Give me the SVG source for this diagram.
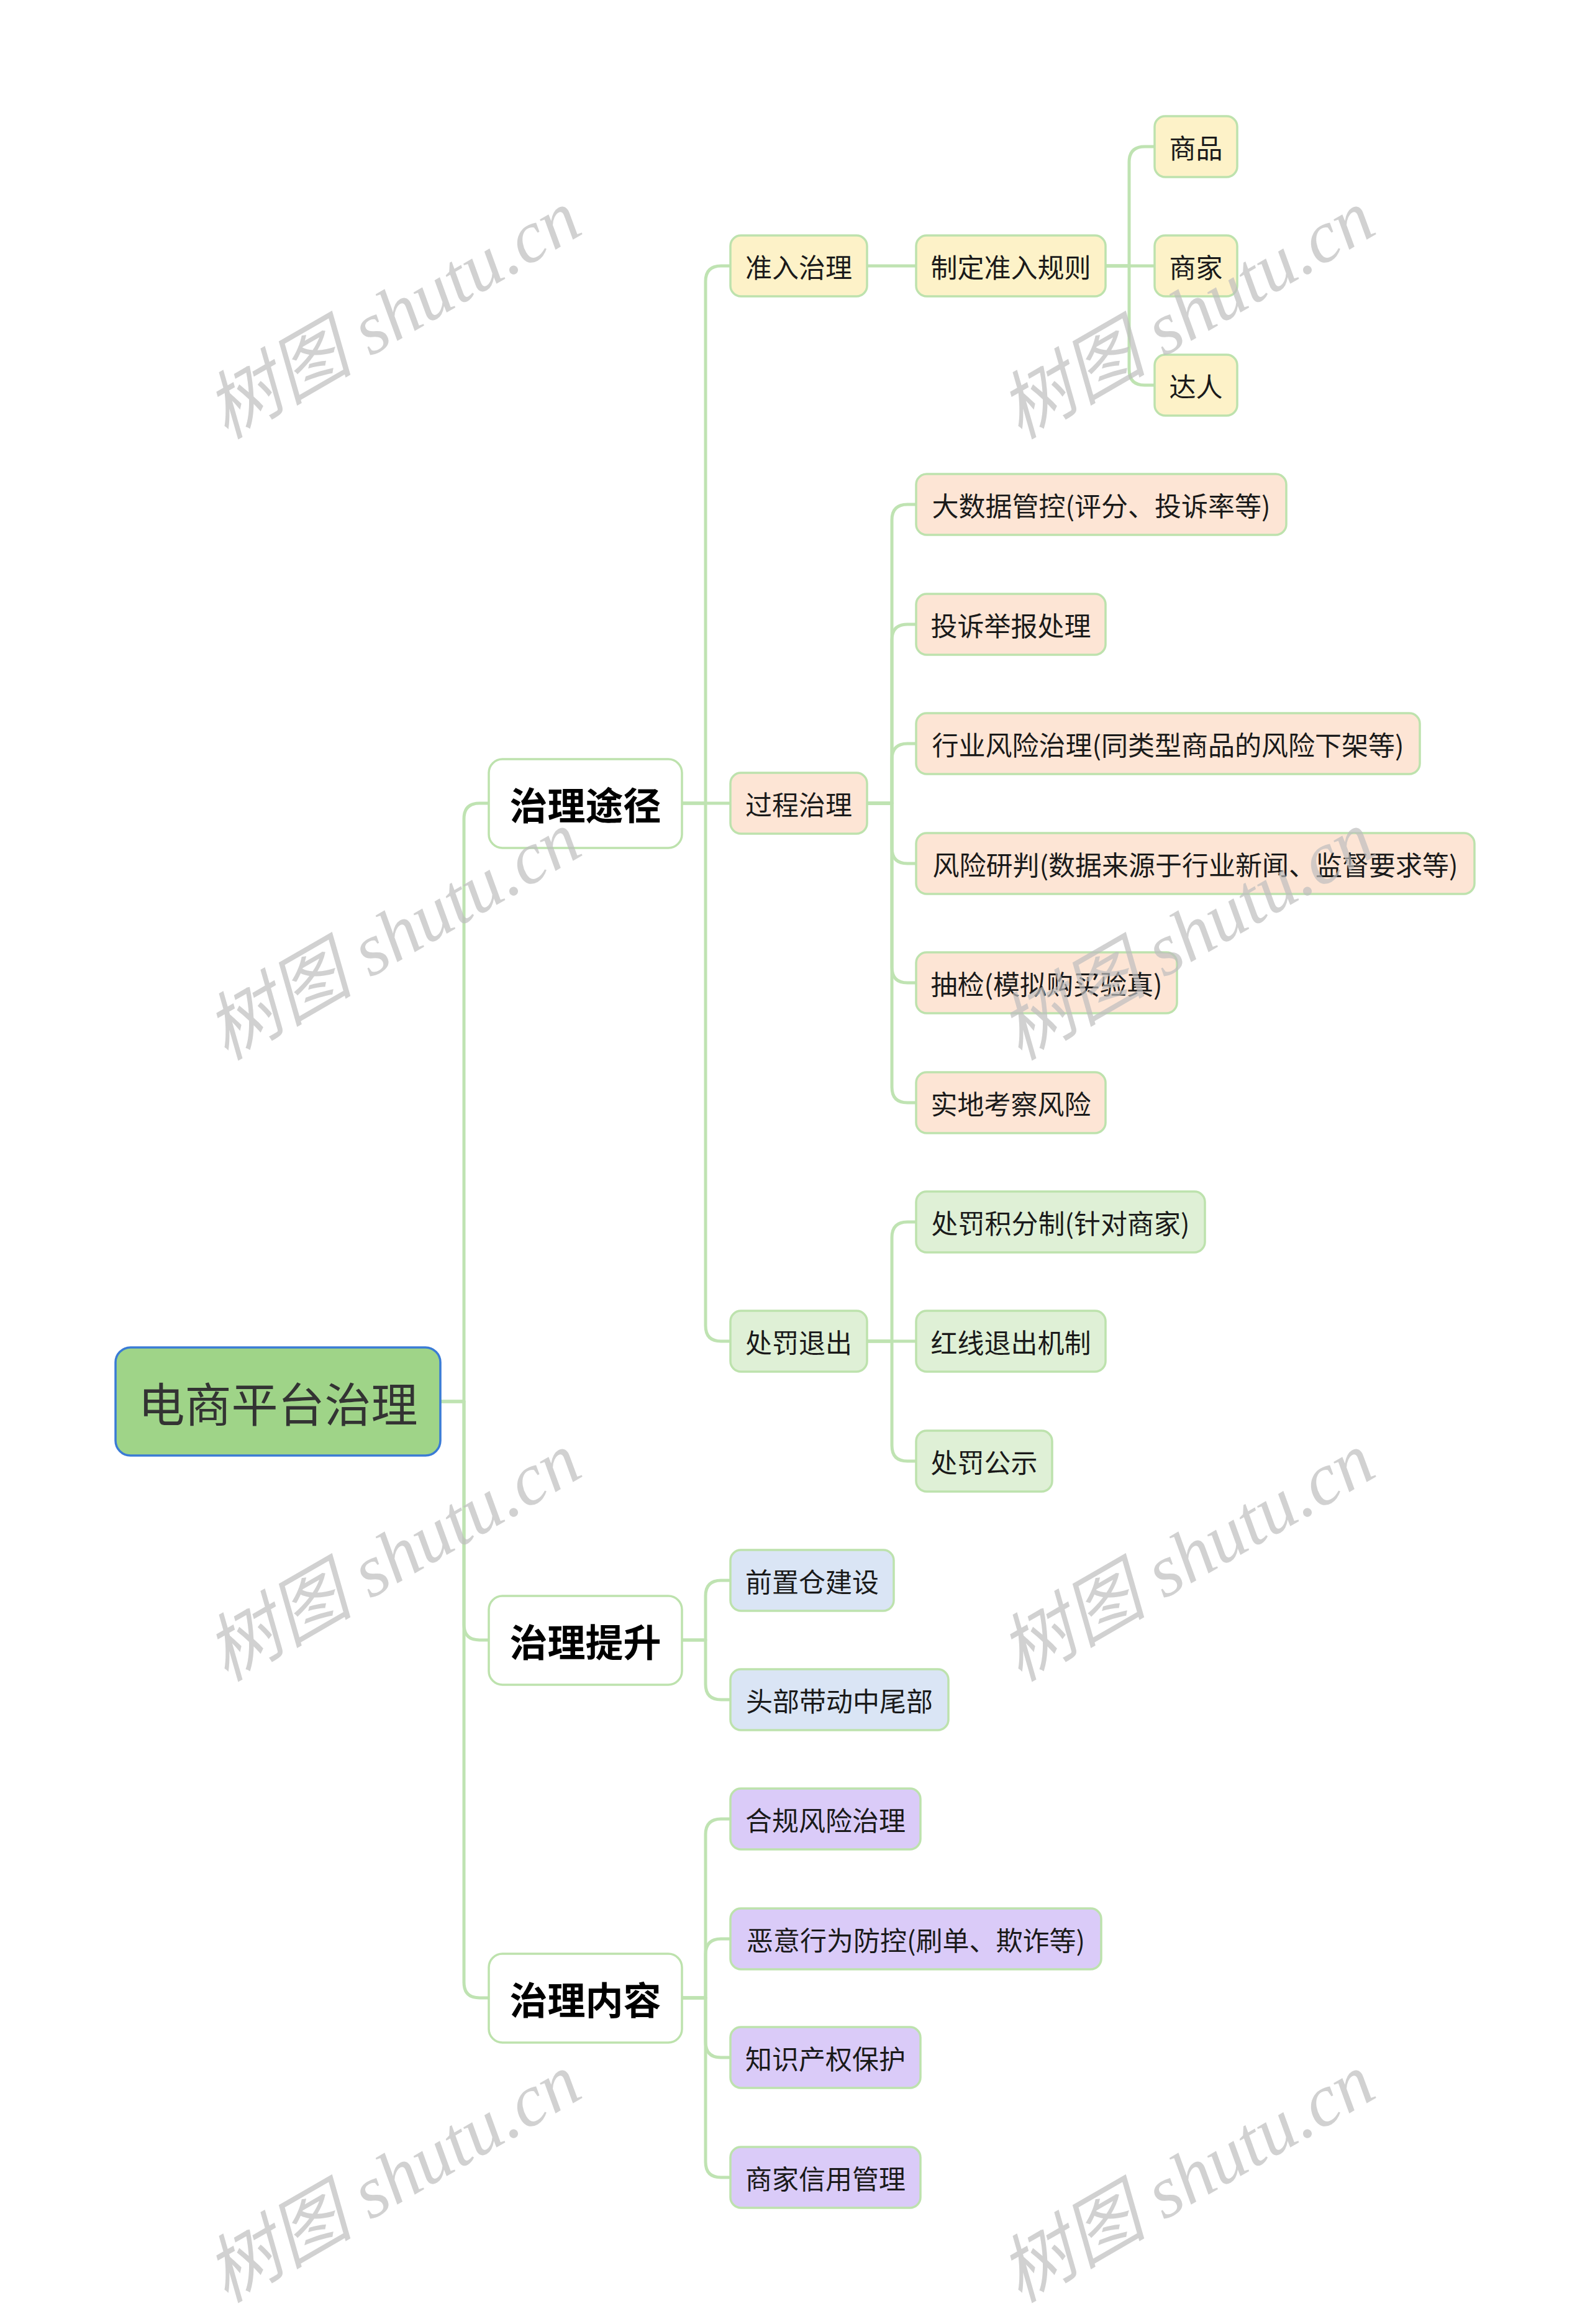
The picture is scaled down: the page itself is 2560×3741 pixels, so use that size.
<svg xmlns="http://www.w3.org/2000/svg" width="2560" height="3741" viewBox="0 0 2560 3741">
<style>
  .bg { fill: #ffffff; }
  .conn { fill: none; stroke: #bfe3b2; stroke-width: 5; stroke-linecap: round; stroke-linejoin: round; }
  .box { stroke: #bde2ad; stroke-width: 3.5; }
  .root { fill: #9fd488; stroke: #3a7bd5; stroke-width: 3.5; }
  .l1 { fill: #ffffff; }
  .yel { fill: #fdf2c8; }
  .pch { fill: #fde5d5; }
  .grn { fill: #dff0d6; }
  .blu { fill: #dae5f5; }
  .pur { fill: #dacbf8; }
  text { font-family: "Noto Sans CJK SC", "Noto Sans", sans-serif; text-anchor: middle; dominant-baseline: central; fill: #1a1a1a; }
  .t0 { font-size: 75px; fill: #333333; }
  .t1 { font-size: 61px; font-weight: bold; fill: #000000; }
  .t2 { font-size: 43px; }
  .wm { font-family: "Liberation Serif", "Noto Sans CJK SC", serif; font-style: italic; font-size: 119px; fill: #bdbdbd; fill-opacity: 0.7; text-anchor: start; dominant-baseline: alphabetic; }
</style>
<rect class="bg" x="0" y="0" width="2560" height="3741"/>

<g id="connectors">
  <path class="conn" d="M709 2256 H747 V1318 Q747 1293 772 1293 H787"/>
  <path class="conn" d="M709 2256 H747 V2615 Q747 2640 772 2640 H787"/>
  <path class="conn" d="M709 2256 H747 V3191 Q747 3216 772 3216 H787"/>

  <path class="conn" d="M1098 1293 H1136 V453 Q1136 428 1161 428 H1176"/>
  <path class="conn" d="M1098 1293 H1176"/>
  <path class="conn" d="M1098 1293 H1136 V2134 Q1136 2159 1161 2159 H1176"/>

  <path class="conn" d="M1396 428 H1475"/>

  <path class="conn" d="M1780 428 H1818 V261 Q1818 236 1843 236 H1859"/>
  <path class="conn" d="M1780 428 H1859"/>
  <path class="conn" d="M1780 428 H1818 V595 Q1818 620 1843 620 H1859"/>

  <path class="conn" d="M1396 1293 H1436 V837 Q1436 812 1461 812 H1475"/>
  <path class="conn" d="M1396 1293 H1436 V1030 Q1436 1005 1461 1005 H1475"/>
  <path class="conn" d="M1396 1293 H1436 V1222 Q1436 1197 1461 1197 H1475"/>
  <path class="conn" d="M1396 1293 H1436 V1365 Q1436 1390 1461 1390 H1475"/>
  <path class="conn" d="M1396 1293 H1436 V1557 Q1436 1582 1461 1582 H1475"/>
  <path class="conn" d="M1396 1293 H1436 V1750 Q1436 1775 1461 1775 H1475"/>

  <path class="conn" d="M1396 2159 H1436 V1992 Q1436 1967 1461 1967 H1475"/>
  <path class="conn" d="M1396 2159 H1475"/>
  <path class="conn" d="M1396 2159 H1436 V2327 Q1436 2352 1461 2352 H1475"/>

  <path class="conn" d="M1098 2640 H1136 V2569 Q1136 2544 1161 2544 H1176"/>
  <path class="conn" d="M1098 2640 H1136 V2711 Q1136 2736 1161 2736 H1176"/>

  <path class="conn" d="M1098 3216 H1136 V2953 Q1136 2928 1161 2928 H1176"/>
  <path class="conn" d="M1098 3216 H1136 V3146 Q1136 3121 1161 3121 H1176"/>
  <path class="conn" d="M1098 3216 H1136 V3287 Q1136 3312 1161 3312 H1176"/>
  <path class="conn" d="M1098 3216 H1136 V3480 Q1136 3505 1161 3505 H1176"/>
</g>

<g id="root">
  <rect class="root" x="186" y="2169" width="523" height="174" rx="24"/>
  <text class="t0" x="447.5" y="2256">电商平台治理</text>
</g>

<g id="n-tujing">
  <rect class="box l1" x="787" y="1222" width="311" height="143" rx="22"/>
  <text class="t1" x="942.5" y="1293">治理途径</text>
</g>
<g id="n-tisheng">
  <rect class="box l1" x="787" y="2569" width="311" height="143" rx="22"/>
  <text class="t1" x="942.5" y="2640">治理提升</text>
</g>
<g id="n-neirong">
  <rect class="box l1" x="787" y="3145" width="311" height="143" rx="22"/>
  <text class="t1" x="942.5" y="3216">治理内容</text>
</g>

<g id="n-zhunru">
  <rect class="box yel" x="1176" y="379" width="220" height="98" rx="17"/>
  <text class="t2" x="1286" y="428">准入治理</text>
</g>
<g id="n-zhiding">
  <rect class="box yel" x="1475" y="379" width="305" height="98" rx="17"/>
  <text class="t2" x="1627.5" y="428">制定准入规则</text>
</g>
<g id="n-shangpin">
  <rect class="box yel" x="1859" y="187" width="133" height="98" rx="17"/>
  <text class="t2" x="1925.5" y="236">商品</text>
</g>
<g id="n-shangjia">
  <rect class="box yel" x="1859" y="379" width="133" height="98" rx="17"/>
  <text class="t2" x="1925.5" y="428">商家</text>
</g>
<g id="n-daren">
  <rect class="box yel" x="1859" y="571" width="133" height="98" rx="17"/>
  <text class="t2" x="1925.5" y="620">达人</text>
</g>

<g id="n-guocheng">
  <rect class="box pch" x="1176" y="1244" width="220" height="98" rx="17"/>
  <text class="t2" x="1286" y="1293">过程治理</text>
</g>
<g id="n-dashuju">
  <rect class="box pch" x="1475" y="763" width="596" height="98" rx="17"/>
  <text class="t2" x="1773" y="812">大数据管控(评分、投诉率等)</text>
</g>
<g id="n-tousu">
  <rect class="box pch" x="1475" y="956" width="305" height="98" rx="17"/>
  <text class="t2" x="1627.5" y="1005">投诉举报处理</text>
</g>
<g id="n-hangye">
  <rect class="box pch" x="1475" y="1148" width="811" height="98" rx="17"/>
  <text class="t2" x="1880.5" y="1197">行业风险治理(同类型商品的风险下架等)</text>
</g>
<g id="n-yanpan">
  <rect class="box pch" x="1475" y="1341" width="899" height="98" rx="17"/>
  <text class="t2" x="1924.5" y="1390">风险研判(数据来源于行业新闻、监督要求等)</text>
</g>
<g id="n-choujian">
  <rect class="box pch" x="1475" y="1533" width="420" height="98" rx="17"/>
  <text class="t2" x="1685" y="1582">抽检(模拟购买验真)</text>
</g>
<g id="n-shidi">
  <rect class="box pch" x="1475" y="1726" width="305" height="98" rx="17"/>
  <text class="t2" x="1627.5" y="1775">实地考察风险</text>
</g>

<g id="n-chufa">
  <rect class="box grn" x="1176" y="2110" width="220" height="98" rx="17"/>
  <text class="t2" x="1286" y="2159">处罚退出</text>
</g>
<g id="n-jifen">
  <rect class="box grn" x="1475" y="1918" width="465" height="98" rx="17"/>
  <text class="t2" x="1707.5" y="1967">处罚积分制(针对商家)</text>
</g>
<g id="n-hongxian">
  <rect class="box grn" x="1475" y="2110" width="305" height="98" rx="17"/>
  <text class="t2" x="1627.5" y="2159">红线退出机制</text>
</g>
<g id="n-gongshi">
  <rect class="box grn" x="1475" y="2303" width="219" height="98" rx="17"/>
  <text class="t2" x="1584.5" y="2352">处罚公示</text>
</g>

<g id="n-qianzhi">
  <rect class="box blu" x="1176" y="2495" width="263" height="98" rx="17"/>
  <text class="t2" x="1307.5" y="2544">前置仓建设</text>
</g>
<g id="n-toubu">
  <rect class="box blu" x="1176" y="2687" width="351" height="98" rx="17"/>
  <text class="t2" x="1351.5" y="2736">头部带动中尾部</text>
</g>

<g id="n-hegui">
  <rect class="box pur" x="1176" y="2879" width="306" height="98" rx="17"/>
  <text class="t2" x="1329" y="2928">合规风险治理</text>
</g>
<g id="n-eyi">
  <rect class="box pur" x="1176" y="3072" width="597" height="98" rx="17"/>
  <text class="t2" x="1474.5" y="3121">恶意行为防控(刷单、欺诈等)</text>
</g>
<g id="n-zhishi">
  <rect class="box pur" x="1176" y="3263" width="306" height="98" rx="17"/>
  <text class="t2" x="1329" y="3312">知识产权保护</text>
</g>
<g id="n-xinyong">
  <rect class="box pur" x="1176" y="3456" width="306" height="98" rx="17"/>
  <text class="t2" x="1329" y="3505">商家信用管理</text>
</g>

<g id="watermarks">
  <text class="wm" transform="translate(364 708) rotate(-30)">树图 shutu.cn</text>
  <text class="wm" transform="translate(1642 708) rotate(-30)">树图 shutu.cn</text>
  <text class="wm" transform="translate(364 1708) rotate(-30)">树图 shutu.cn</text>
  <text class="wm" transform="translate(1642 1708) rotate(-30)">树图 shutu.cn</text>
  <text class="wm" transform="translate(364 2708) rotate(-30)">树图 shutu.cn</text>
  <text class="wm" transform="translate(1642 2708) rotate(-30)">树图 shutu.cn</text>
  <text class="wm" transform="translate(364 3708) rotate(-30)">树图 shutu.cn</text>
  <text class="wm" transform="translate(1642 3708) rotate(-30)">树图 shutu.cn</text>
</g>
</svg>
